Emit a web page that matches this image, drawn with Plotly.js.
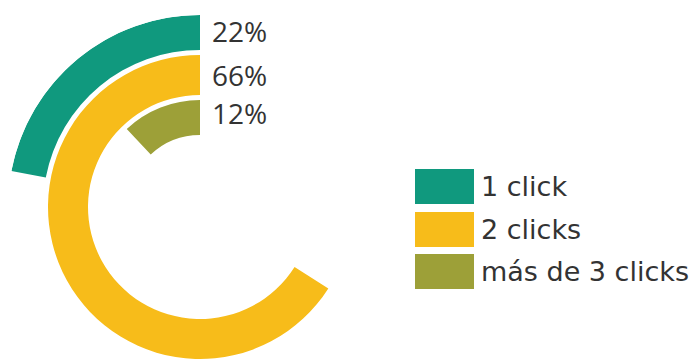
<!DOCTYPE html>
<html>
<head>
<meta charset="utf-8">
<script src="https://cdn.plot.ly/plotly-3.0.1.min.js"></script>
<style>
  html, body { margin: 0; padding: 0; background: #fff; overflow: hidden; }
  #wrap { width: 698px; height: 361px; overflow: hidden; position: relative; }
  #chart { width: 698px; height: 400px; }
</style>
</head>
<body>
<div id="wrap"><div id="chart"></div></div>
<script>
// ---- data ----
const categories = ["1 click", "2 clicks", "más de 3 clicks"];
const percents = [22, 66, 12];
const pctLabels = ["22%", "66%", "12%"];
const colors = ["#10997e", "#f7bc1a", "#9da038"];

// ---- layout constants (pixels) ----
const W = 698, H = 400;
const cx = 200, cy = 207, R = 192;
const ringOuter = [192, 152, 107];
const ringInner = [157, 112, 72];

const traces = categories.map((c, i) => ({
  type: "barpolar",
  name: c,
  r: [ringOuter[i] - ringInner[i]],
  base: [ringInner[i]],
  theta: [percents[i] * 3.6 / 2],
  width: [percents[i] * 3.6],
  marker: { color: colors[i], line: { width: 0 } },
  hoverinfo: "skip",
  showlegend: false
}));

const annotations = [];
const shapes = [];
// percentage labels next to ring starts
const labelY = [31, 75, 113];
pctLabels.forEach((t, i) => {
  annotations.push({
    xref: "paper", yref: "paper",
    x: 210 / W, y: 1 - labelY[i] / H,
    xanchor: "left", yanchor: "middle",
    text: t, showarrow: false,
    font: { family: "Open Sans", size: 28, color: "#333333" }
  });
});
// legend
const legTop = [169, 212, 254];
categories.forEach((c, i) => {
  shapes.push({
    type: "rect", xref: "paper", yref: "paper",
    x0: 415 / W, x1: 474 / W,
    y0: 1 - legTop[i] / H, y1: 1 - (legTop[i] + 35) / H,
    fillcolor: colors[i], line: { width: 0 }
  });
  annotations.push({
    xref: "paper", yref: "paper",
    x: 479 / W, y: 1 - (legTop[i] + 17) / H,
    xanchor: "left", yanchor: "middle",
    text: c, showarrow: false,
    font: { family: "DejaVu Sans", size: 27, color: "#333333" }
  });
});

const layout = {
  width: W, height: H,
  margin: { l: 0, r: 0, t: 0, b: 0 },
  paper_bgcolor: "#ffffff",
  showlegend: false,
  polar: {
    domain: { x: [(cx - R) / W, (cx + R) / W], y: [(H - cy - R) / H, (H - cy + R) / H] },
    bgcolor: "rgba(0,0,0,0)",
    radialaxis: { range: [0, R], visible: false, showgrid: false, showline: false, showticklabels: false },
    angularaxis: { direction: "counterclockwise", rotation: 90, visible: false, showgrid: false, showline: false, showticklabels: false, ticks: "" }
  },
  annotations: annotations,
  shapes: shapes
};

Plotly.newPlot("chart", traces, layout, { staticPlot: true, displayModeBar: false });
</script>
</body>
</html>
